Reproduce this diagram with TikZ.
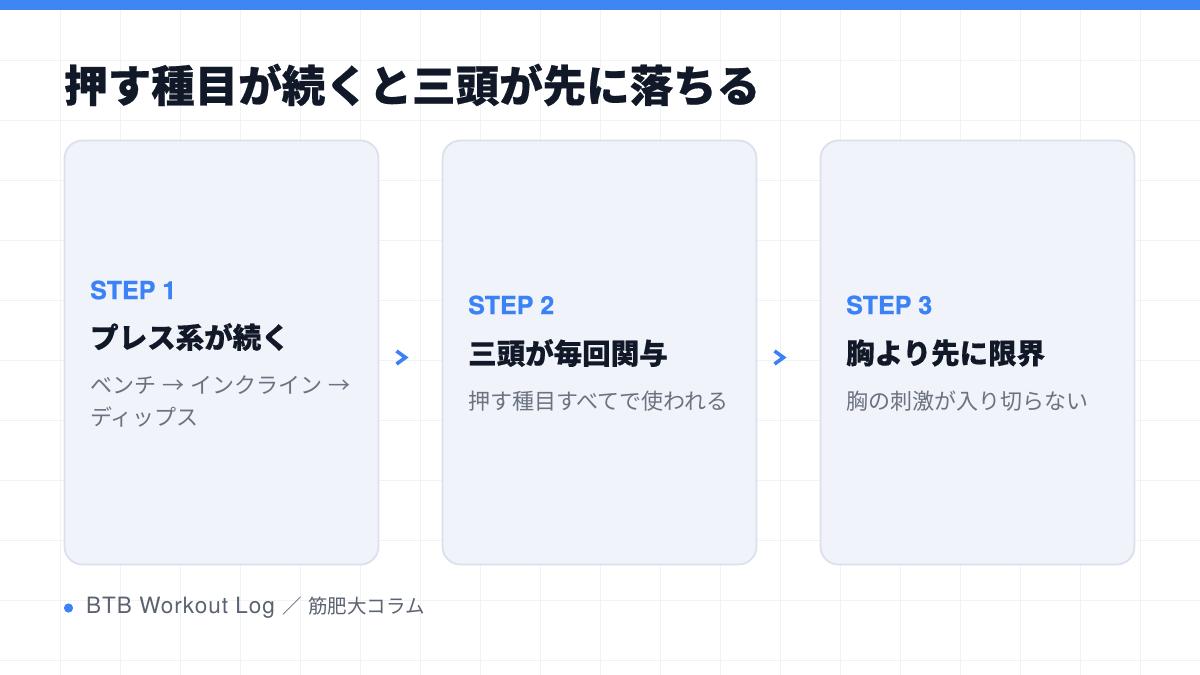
\documentclass[tikz,border=0pt]{standalone}
\usepackage{fontspec}
\setmainfont{Noto Sans CJK JP}
\newfontfamily\jp{Noto Sans CJK JP}
\newfontfamily\jpheavy{Noto Sans CJK JP}[BoldFeatures={FakeBold=0.5}]
\newfontfamily\lat{TeX Gyre Heros}[LetterSpace=4.5]
\newfontfamily\latb{TeX Gyre Heros}[BoldFeatures={FakeBold=0.8}]
\definecolor{topblue}{HTML}{3F86F5}
\definecolor{accent}{HTML}{3B82F6}
\definecolor{gridc}{HTML}{F1F2F5}
\definecolor{cardfill}{HTML}{F1F3FA}
\definecolor{cardline}{HTML}{DCE0ED}
\definecolor{ink}{HTML}{111827}
\definecolor{muted}{HTML}{6B7280}
\definecolor{foot}{HTML}{5B6270}
\tikzset{
  card/.style={draw=cardline, line width=1.8pt, fill=cardfill, rounded corners=18pt, minimum width=314pt, minimum height=424pt, inner sep=0pt},
  steplabel/.style={anchor=west, inner sep=0pt, text=accent, font=\latb\bfseries\fontsize{25}{30}\selectfont},
  headtext/.style={anchor=west, inner sep=0pt, text=ink, font=\jpheavy\bfseries\fontsize{28.5}{34}\selectfont},
  bodytext/.style={anchor=west, inner sep=0pt, text=muted, align=left, font=\jp\fontsize{22}{32}\selectfont},
  chev/.style={draw=accent, line width=3.6pt, line cap=butt, line join=miter},
}
\newcommand{\arr}{\hspace{6pt}→\hspace{6pt}}
\begin{document}
\begin{tikzpicture}[x=1pt, y=-1pt]
\useasboundingbox (0,0) rectangle (1200,675);
\fill[white] (0,0) rectangle (1200,675);
% grid
\foreach \gx in {60,120,...,1140} \draw[gridc, line width=0.8pt] (\gx,10) -- (\gx,675);
\foreach \gy in {60,120,...,660} \draw[gridc, line width=0.8pt] (0,\gy) -- (1200,\gy);
% top bar
\fill[topblue] (0,0) rectangle (1200,9.5);
% title
\node[anchor=west, inner sep=0pt, text=ink, font=\jpheavy\bfseries\fontsize{43.5}{50}\selectfont] (title) at (64,85) {押す種目が続くと三頭が先に落ちる};
% cards
\node[card] (c1) at (221.5,352.5) {};
\node[card] (c2) at (599.5,352.5) {};
\node[card] (c3) at (977.5,352.5) {};
% card 1
\node[steplabel] (s1) at (90,290) {STEP 1};
\node[headtext] (h1) at (90,337) {プレス系が続く};
\node[bodytext] (b1) at (90,401) {ベンチ\arr インクライン\arr\\ディップス};
% card 2
\node[steplabel] (s2) at (468,305) {STEP 2};
\node[headtext] (h2) at (468,353) {三頭が毎回関与};
\node[bodytext] (b2) at (468,401) {押す種目すべてで使われる};
% card 3
\node[steplabel] (s3) at (846,305) {STEP 3};
\node[headtext] (h3) at (846,353) {胸より先に限界};
\node[bodytext] (b3) at (846,401) {胸の刺激が入り切らない};
% chevrons
\node[inner sep=0pt, minimum size=14pt] (ch1) at (401,357.5) {};
\node[inner sep=0pt, minimum size=14pt] (ch2) at (779,357.5) {};
\draw[chev] ([shift={(-4.5,-6.5)}]ch1.center) -- ([shift={(4.5,0)}]ch1.center) -- ([shift={(-4.5,6.5)}]ch1.center);
\draw[chev] ([shift={(-4.5,-6.5)}]ch2.center) -- ([shift={(4.5,0)}]ch2.center) -- ([shift={(-4.5,6.5)}]ch2.center);
% footer
\fill[accent] (68.5,608) circle (4.6pt);
\node[anchor=west, inner sep=0pt, text=foot] (ft) at (86,608) {{\lat\fontsize{22.5}{26}\selectfont BTB Workout Log}\hspace{8pt}{\jp\fontsize{19.5}{24}\selectfont ／\hspace{6pt}筋肥大コラム}};
\end{tikzpicture}
\end{document}
